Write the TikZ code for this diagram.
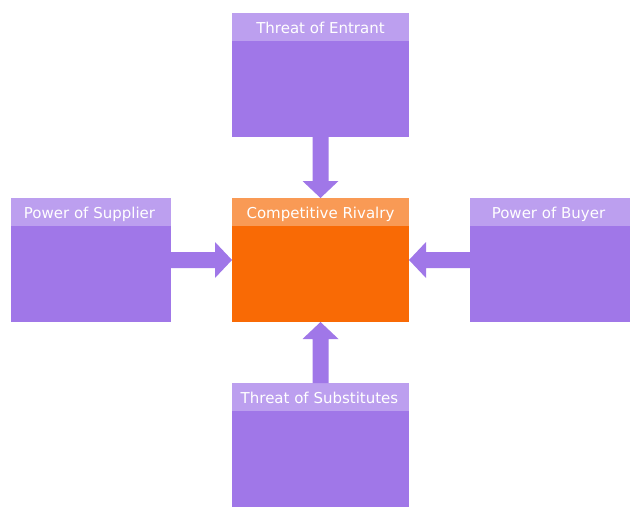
\documentclass[tikz,border=0pt]{standalone}
\usepackage{fontspec}
\setmainfont{DejaVu Sans}
\usetikzlibrary{calc}
\definecolor{pbody}{HTML}{A077E8}
\definecolor{phead}{HTML}{BC9FEF}
\definecolor{obody}{HTML}{F96A05}
\definecolor{ohead}{HTML}{F99A55}
\begin{document}
\begin{tikzpicture}[x=1pt,y=-1pt,
  wide/.style={minimum width=177pt,minimum height=124pt,inner sep=0pt,outer sep=0pt,draw=none},
  narrow/.style={minimum width=160pt,minimum height=124pt,inner sep=0pt,outer sep=0pt,draw=none},
  hwide/.style={minimum width=177pt,minimum height=28pt,inner sep=0pt,outer sep=0pt},
  hnarrow/.style={minimum width=160pt,minimum height=28pt,inner sep=0pt,outer sep=0pt},
  htext/.style={text=white,font=\fontsize{15}{18}\selectfont,inner sep=0pt,anchor=base},
  blockarrow/.style={fill=pbody,draw=none}]
\useasboundingbox (0,0) rectangle (640,519);
% boxes
\node[wide,fill=pbody] (top) at (320.5,75) {};
\node[hwide,fill=phead,anchor=north] (toph) at (top.north) {};
\node[htext] (topt) at ($(toph.south)+(0,-7.5)$) {Threat of Entrant};
\node[wide,fill=obody] (mid) at (320.5,260) {};
\node[hwide,fill=ohead,anchor=north] (midh) at (mid.north) {};
\node[htext] (midt) at ($(midh.south)+(0,-7.5)$) {Competitive Rivalry};
\node[narrow,fill=pbody] (left) at (91,260) {};
\node[hnarrow,fill=phead,anchor=north] (lefth) at (left.north) {};
\node[htext] (leftt) at ($(lefth.south)+(-1.5,-7.5)$) {Power of Supplier};
\node[narrow,fill=pbody] (right) at (550,260) {};
\node[hnarrow,fill=phead,anchor=north] (righth) at (right.north) {};
\node[htext] (rightt) at ($(righth.south)+(-1.5,-7.5)$) {Power of Buyer};
\node[wide,fill=pbody] (bot) at (320.5,445) {};
\node[hwide,fill=phead,anchor=north] (both) at (bot.north) {};
\node[htext] (bott) at ($(both.south)+(-1,-7.5)$) {Threat of Substitutes};
% arrows (shaft 16, head 36 wide, 17 long)
\fill[blockarrow] ($(top.south)+(-8,0)$) -- ($(top.south)+(8,0)$) -- ($(mid.north)+(8,-17)$) -- ($(mid.north)+(18,-17)$) -- (mid.north) -- ($(mid.north)+(-18,-17)$) -- ($(mid.north)+(-8,-17)$) -- cycle;
\fill[blockarrow] ($(bot.north)+(-8,0)$) -- ($(bot.north)+(8,0)$) -- ($(mid.south)+(8,17)$) -- ($(mid.south)+(18,17)$) -- (mid.south) -- ($(mid.south)+(-18,17)$) -- ($(mid.south)+(-8,17)$) -- cycle;
\fill[blockarrow] ($(left.east)+(0,-8)$) -- ($(mid.west)+(-17,-8)$) -- ($(mid.west)+(-17,-18)$) -- (mid.west) -- ($(mid.west)+(-17,18)$) -- ($(mid.west)+(-17,8)$) -- ($(left.east)+(0,8)$) -- cycle;
\fill[blockarrow] ($(right.west)+(0,-8)$) -- ($(mid.east)+(17,-8)$) -- ($(mid.east)+(17,-18)$) -- (mid.east) -- ($(mid.east)+(17,18)$) -- ($(mid.east)+(17,8)$) -- ($(right.west)+(0,8)$) -- cycle;
\end{tikzpicture}
\end{document}
